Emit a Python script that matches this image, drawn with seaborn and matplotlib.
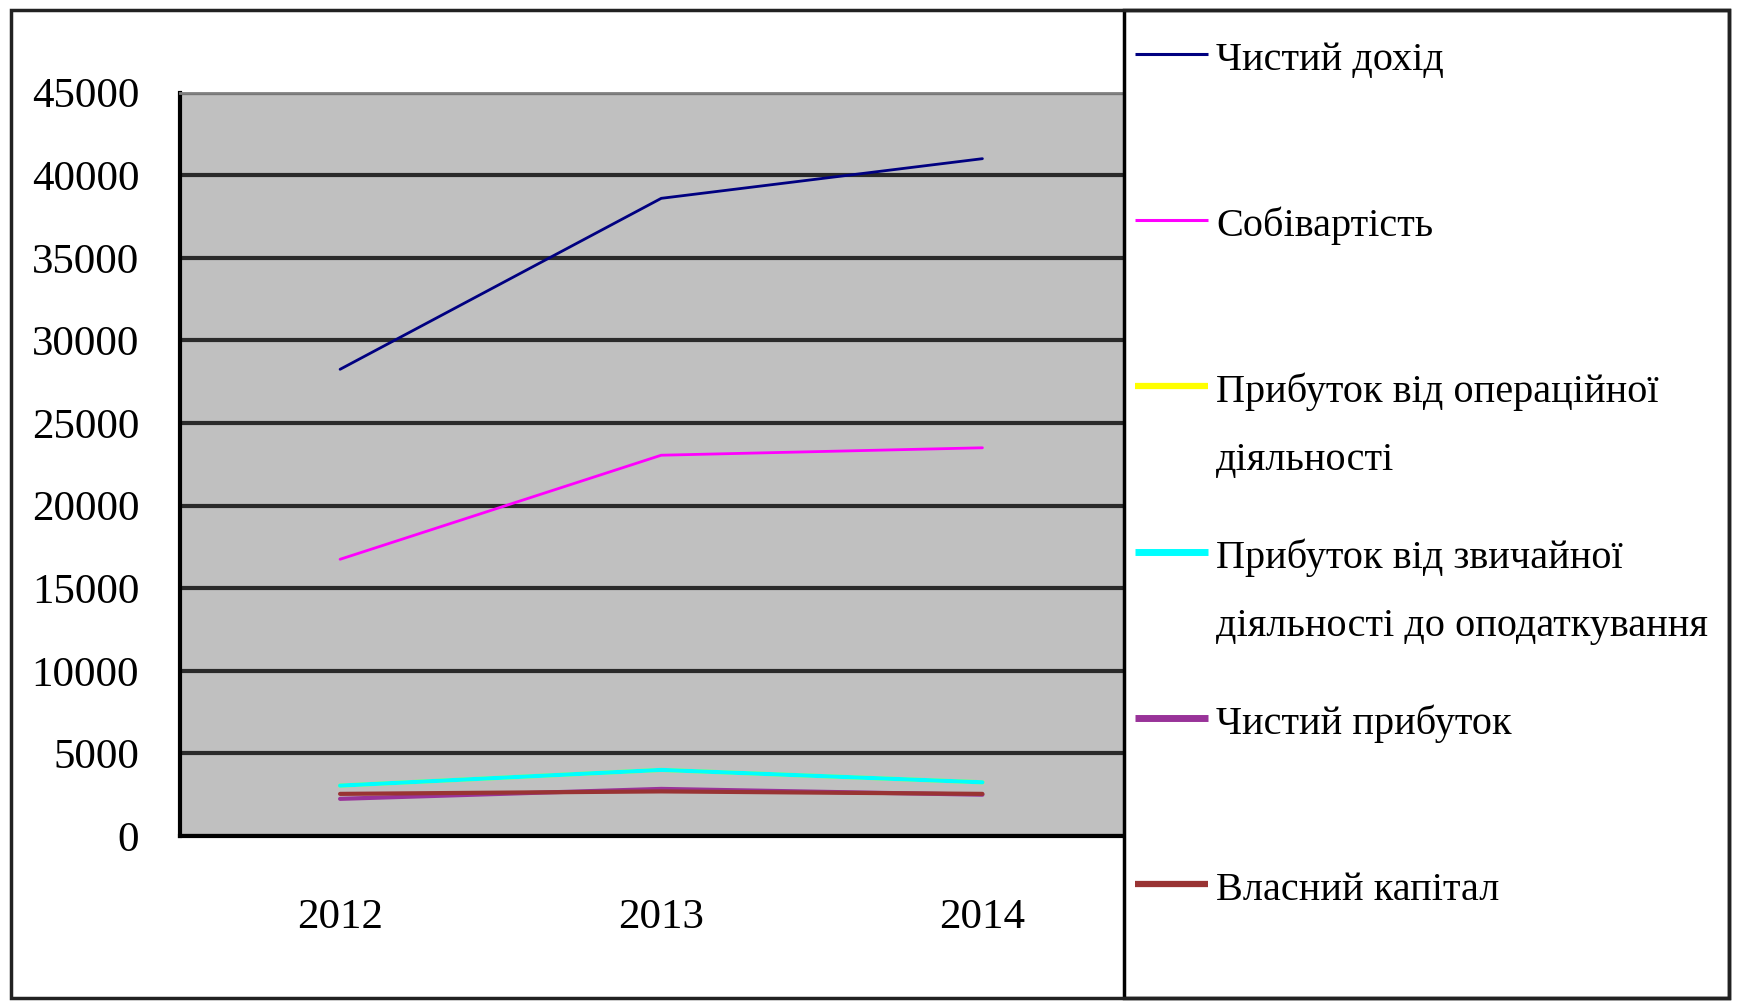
import matplotlib
matplotlib.use("Agg")
import matplotlib.pyplot as plt
import seaborn as sns
import pandas as pd
from matplotlib.lines import Line2D
from matplotlib.patches import Rectangle

# data
years = ["2012", "2013", "2014"]
series_names = [
    "Чистий дохід",
    "Собівартість",
    "Прибуток від операційної\nдіяльності",
    "Прибуток від звичайної\nдіяльності до оподаткування",
    "Чистий прибуток",
    "Власний капітал",
]
chystyi_dokhid = [28250, 38600, 41000]
sobivartist = [16750, 23050, 23500]
prybutok_operatsiinoi = [3050, 4000, 3250]
prybutok_zvychainoi = [3050, 4000, 3250]
chystyi_prybutok = [2250, 2850, 2500]
vlasnyi_kapital = [2550, 2700, 2550]
y_ticks = [0, 5000, 10000, 15000, 20000, 25000, 30000, 35000, 40000, 45000]

series_values = [chystyi_dokhid, sobivartist, prybutok_operatsiinoi,
                 prybutok_zvychainoi, chystyi_prybutok, vlasnyi_kapital]
colors = ["#000080", "#FF00FF", "#FFFF00", "#00FFFF", "#993399", "#993333"]
line_w = [2.0, 2.0, 3.0, 3.0, 3.0, 3.0]
legend_w = [2.2, 2.2, 4.5, 5.0, 5.0, 4.5]

rows = []
for name, vals in zip(series_names, series_values):
    for i, v in enumerate(vals):
        rows.append({"series": name, "pos": i, "value": v})
df = pd.DataFrame(rows)

sns.set_style("white")
plt.rcParams["font.family"] = ["Liberation Serif", "DejaVu Serif"]
plt.rcParams["text.color"] = "black"
plt.rcParams["xtick.labelcolor"] = "black"
plt.rcParams["ytick.labelcolor"] = "black"

W, H = 1750, 1001
fig = plt.figure(figsize=(W / 100, H / 100), dpi=100)


def fx(px):
    return px / W


def fy(py):
    return 1 - py / H


ax = fig.add_axes([fx(179.5), fy(836), fx(1143) - fx(179.5), fy(92.6) - fy(836)])
ax.set_facecolor("#C0C0C0")

for name, color, lw in zip(series_names, colors, line_w):
    sns.lineplot(data=df[df["series"] == name], x="pos", y="value", ax=ax,
                 color=color, lw=lw, legend=False, zorder=3)

ax.set_xlim(-0.5, len(years) - 0.5)
ax.set_ylim(0, 45000)
ax.set_yticks(y_ticks)
ax.set_yticklabels([str(t) for t in y_ticks], fontsize=31, color="black")
ax.yaxis.grid(True, color="#2a2a2a", lw=3)
ax.set_axisbelow(True)
ax.tick_params(axis="y", length=11, width=3, color="black", pad=18)

# category boundaries as major ticks, years as minor labels
ax.set_xticks([i - 0.5 for i in range(len(years) + 1)])
ax.set_xticklabels([])
ax.set_xticks(range(len(years)), minor=True)
ax.set_xticklabels(years, minor=True, fontsize=31, color="black")
ax.tick_params(axis="x", which="major", length=17, width=2, color="#444444")
ax.tick_params(axis="x", which="minor", length=0, pad=45)
ax.set_xlabel("")
ax.set_ylabel("")

for s in ["left", "bottom"]:
    ax.spines[s].set_color("black")
    ax.spines[s].set_linewidth(3)
ax.spines["top"].set_color("#808080")
ax.spines["top"].set_linewidth(2)
ax.spines["right"].set_visible(False)

# legend box covering the right end of the plot
fig.add_artist(Rectangle((fx(1124), fy(998)), fx(1729) - fx(1124), fy(10) - fy(998),
                         transform=fig.transFigure, facecolor="white",
                         edgecolor="black", lw=2.5, zorder=5))
# outer border
fig.add_artist(Rectangle((fx(11), fy(998)), fx(1729) - fx(11), fy(10) - fy(998),
                         transform=fig.transFigure, facecolor="none",
                         edgecolor="#222222", lw=2.5, zorder=6))

slot_top, slot_step, line_gap = 54, 166, 68
for i, (name, color, lw) in enumerate(zip(series_names, colors, legend_w)):
    y = slot_top + i * slot_step
    fig.add_artist(Line2D([fx(1135), fx(1208)], [fy(y), fy(y)], transform=fig.transFigure,
                          color=color, lw=lw, solid_capstyle="butt", zorder=7))
    for j, part in enumerate(name.split("\n")):
        fig.text(fx(1216), fy(y + 16 + j * line_gap), part, fontsize=29,
                 va="baseline", ha="left", color="black", zorder=7)

fig.savefig("out.png", dpi=100)
